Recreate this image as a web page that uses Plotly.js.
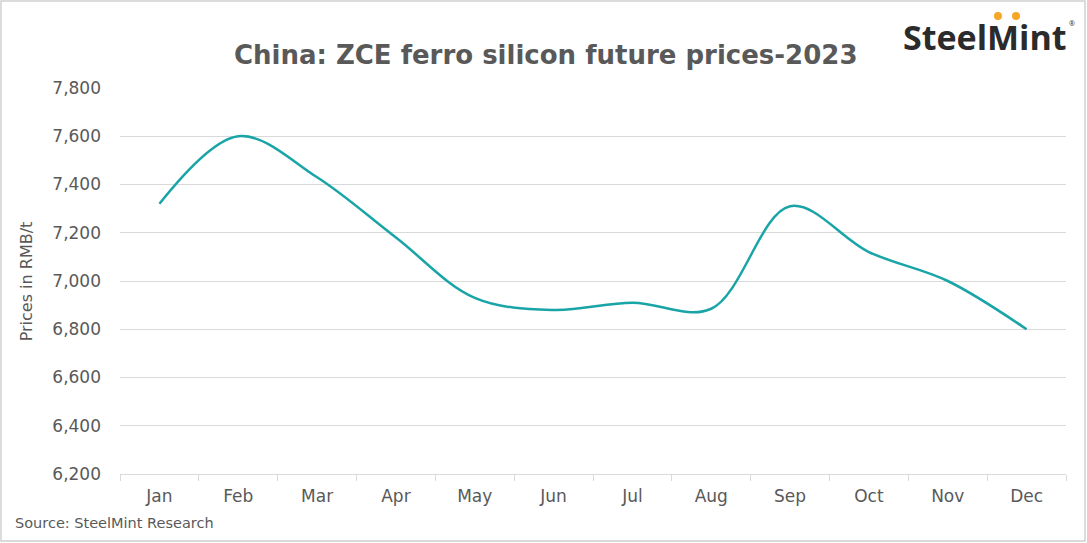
<!DOCTYPE html>
<html>
<head>
<meta charset="utf-8">
<script src="https://cdn.plot.ly/plotly-3.0.1.min.js"></script>
<style>
  html, body { margin: 0; padding: 0; background: #fff; }
  #chart { width: 1087px; height: 543px; }
</style>
</head>
<body>
<div id="chart"></div>
<script>
// months and ZCE ferro silicon futures (RMB/t)
const months = ['Jan', 'Feb', 'Mar', 'Apr', 'May', 'Jun', 'Jul', 'Aug', 'Sep', 'Oct', 'Nov', 'Dec'];
const prices = [7320, 7600, 7430, 7180, 6930, 6880, 6910, 6885, 7310, 7120, 7000, 6800];
const yTicks = [6200, 6400, 6600, 6800, 7000, 7200, 7400, 7600, 7800];

const grey = '#595959';
const font = 'DejaVu Sans, Open Sans, sans-serif';
const logoFont = 'Open Sans, sans-serif';

const trace = {
  x: months,
  y: prices,
  type: 'scatter',
  mode: 'lines',
  line: { color: '#19a4a7', width: 2.5, shape: 'spline', smoothing: 1 },
  hoverinfo: 'x+y'
};

const layout = {
  width: 1087,
  height: 543,
  margin: { l: 120, r: 21, t: 88, b: 69 },
  paper_bgcolor: '#fff',
  plot_bgcolor: '#fff',
  showlegend: false,
  font: { family: font, color: grey },
  title: {
    text: '<b>China: ZCE ferro silicon future prices-2023</b>',
    font: { family: font, size: 26, color: grey },
    x: 0.502, xref: 'container', xanchor: 'center',
    y: 0.898, yref: 'container', yanchor: 'middle'
  },
  xaxis: {
    type: 'category',
    range: [-0.5, months.length - 0.5],
    showgrid: false,
    showline: true,
    linecolor: '#d9d9d9',
    linewidth: 1,
    ticks: 'outside',
    tickson: 'boundaries',
    ticklen: 6,
    tickcolor: '#d9d9d9',
    ticklabelstandoff: 7,
    tickfont: { family: font, size: 17, color: grey },
    fixedrange: true
  },
  yaxis: {
    range: [6200, 7800],
    tickvals: yTicks,
    tickformat: ',',
    showgrid: true,
    gridcolor: '#d9d9d9',
    gridwidth: 1,
    zeroline: false,
    showline: false,
    ticklabelstandoff: 18,
    tickfont: { family: font, size: 17, color: grey },
    fixedrange: true
  },
  annotations: [
    {
      text: 'Prices in RMB/t',
      textangle: -90,
      xref: 'paper', yref: 'paper',
      x: -0.099, y: 0.5,
      xanchor: 'center', yanchor: 'middle',
      showarrow: false,
      font: { family: font, size: 16, color: grey }
    },
    {
      text: 'Source: SteelMint Research',
      xref: 'paper', yref: 'paper',
      x: -0.113, y: -0.128,
      xanchor: 'left', yanchor: 'middle',
      showarrow: false,
      font: { family: font, size: 14.5, color: grey }
    },
    {
      text: '<b>SteelMint</b>',
      xref: 'paper', yref: 'paper',
      x: 1.0035, y: 1.132,
      xanchor: 'right', yanchor: 'middle',
      showarrow: false,
      font: { family: logoFont, size: 34, color: '#2b2b2b' }
    },
    {
      text: '®',
      xref: 'paper', yref: 'paper',
      x: 1.0063, y: 1.166,
      xanchor: 'center', yanchor: 'middle',
      showarrow: false,
      font: { family: logoFont, size: 7, color: '#2b2b2b' }
    }
  ],
  shapes: [
    // outer frame
    {
      type: 'rect', xref: 'paper', yref: 'paper',
      x0: -0.1258, x1: 1.0201, y0: -0.1736, y1: 1.2254,
      line: { color: '#d0d0d0', width: 1.5 }, fillcolor: 'rgba(0,0,0,0)', layer: 'below'
    },
    // logo dots
    {
      type: 'circle', xref: 'paper', yref: 'paper',
      x0: 0.9239, x1: 0.9323, y0: 1.1762, y1: 1.1969,
      line: { width: 0 }, fillcolor: '#f5a623'
    },
    {
      type: 'circle', xref: 'paper', yref: 'paper',
      x0: 0.9429, x1: 0.9514, y0: 1.1762, y1: 1.1969,
      line: { width: 0 }, fillcolor: '#f5a623'
    }
  ]
};

Plotly.newPlot('chart', [trace], layout, { displayModeBar: false, responsive: false });
</script>
</body>
</html>
